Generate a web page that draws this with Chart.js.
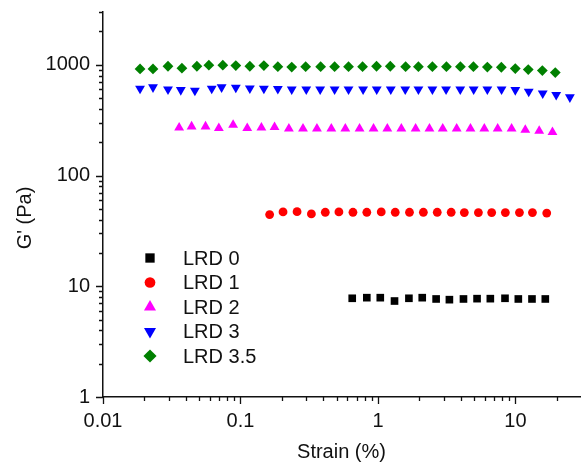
<!DOCTYPE html>
<html>
<head>
<meta charset="utf-8">
<script src="https://cdn.jsdelivr.net/npm/chart.js@4/dist/chart.umd.min.js"></script>
<style>
  html, body { margin: 0; padding: 0; background: #fff; }
  canvas { display: block; }
</style>
</head>
<body>
<canvas id="chart" width="581" height="462"></canvas>
<script>
// Strain (%) and G' (Pa), one pair of arrays per sample
const seriesNames = ["LRD 0", "LRD 1", "LRD 2", "LRD 3", "LRD 3.5"];

const strain0 = [0.65, 0.83, 1.04, 1.32, 1.68, 2.10, 2.65, 3.31, 4.19, 5.26, 6.57, 8.40, 10.5, 13.2, 16.5];
const gPrime0 = [7.79, 7.89, 7.89, 7.36, 7.79, 7.89, 7.68, 7.57, 7.68, 7.73, 7.73, 7.79, 7.68, 7.68, 7.68];

const strain1 = [0.163, 0.204, 0.258, 0.328, 0.414, 0.52, 0.658, 0.83, 1.057, 1.336, 1.696, 2.14, 2.70, 3.41, 4.25, 5.38, 6.72, 8.45, 10.7, 13.3, 16.9];
const gPrime1 = [44.4, 46.9, 47.2, 45.0, 46.6, 46.9, 46.6, 46.6, 46.9, 46.6, 46.6, 46.6, 46.6, 46.6, 46.3, 46.3, 46.3, 46.3, 46.3, 46.3, 45.8];

const strain2 = [0.0358, 0.0441, 0.0557, 0.0696, 0.0884, 0.112, 0.142, 0.177, 0.225, 0.285, 0.360, 0.458, 0.579, 0.735,
  0.929, 1.17, 1.48, 1.88, 2.37, 2.96, 3.74, 4.71, 5.94, 7.43, 9.38, 11.8, 14.9, 18.6];
const gPrime2 = [271, 277, 277, 268, 287, 268, 271, 273, 265, 265, 265, 265, 265, 265,
  265, 265, 265, 265, 265, 265, 265, 265, 265, 265, 265, 258, 253, 246];

const strain3 = [0.0186, 0.0231, 0.0297, 0.0368, 0.0466, 0.0618, 0.0729, 0.0925, 0.117, 0.148, 0.187, 0.236,
  0.301, 0.380, 0.484, 0.611, 0.780, 0.980, 1.24, 1.58, 1.97, 2.49, 3.13, 3.97, 4.97, 6.25, 7.93,
  9.98, 12.5, 15.8, 19.8, 24.9];
const gPrime3 = [610, 628, 602, 593, 585, 610, 628, 623, 614, 610, 606, 602,
  602, 602, 602, 602, 602, 602, 602, 602, 602, 602, 602, 602, 602, 602, 602,
  593, 573, 554, 535, 510];

const strain35 = [0.0186, 0.0231, 0.0297, 0.0375, 0.0482, 0.0589, 0.0744, 0.0925, 0.117, 0.148, 0.187, 0.236,
  0.298, 0.383, 0.484, 0.611, 0.773, 0.977, 1.23, 1.59, 1.97, 2.49, 3.15, 3.98, 4.95, 6.25, 7.90,
  9.98, 12.4, 15.7, 19.5];
const gPrime35 = [918, 918, 971, 932, 971, 992, 992, 985, 971, 985, 963, 955,
  963, 963, 963, 963, 963, 971, 971, 963, 963, 963, 963, 963, 963, 955, 951,
  925, 906, 887, 851];

// Tick positions on both log axes (labels only on the decades)
const xTickValues = [0.01, 0.02, 0.03, 0.04, 0.05, 0.06, 0.07, 0.08, 0.09,
  0.1, 0.2, 0.3, 0.4, 0.5, 0.6, 0.7, 0.8, 0.9,
  1, 2, 3, 4, 5, 6, 7, 8, 9,
  10, 20];
const yTickValues = [1, 2, 3, 4, 5, 6, 7, 8, 9,
  10, 20, 30, 40, 50, 60, 70, 80, 90,
  100, 200, 300, 400, 500, 600, 700, 800, 900,
  1000, 2000, 3000];

const FONT = "'Liberation Sans', Arial, sans-serif";
const INK = "#111";

const isDecade = (v) => Math.abs(Math.log10(v) - Math.round(Math.log10(v))) < 1e-9;
const toPoints = (xs, ys) => xs.map((x, i) => ({ x, y: ys[i] }));

const styles = [
  { color: "#000000", pointStyle: "rect", radius: 5.4, rotation: 0 },
  { color: "#ff0000", pointStyle: "circle", radius: 4.4, rotation: 0 },
  { color: "#ff00ff", pointStyle: "triangle", radius: 5.7, rotation: 0 },
  { color: "#0000ff", pointStyle: "triangle", radius: 5.7, rotation: 180 },
  { color: "#008000", pointStyle: "rectRot", radius: 5.4, rotation: 0 },
];

const seriesData = [
  toPoints(strain0, gPrime0),
  toPoints(strain1, gPrime1),
  toPoints(strain2, gPrime2),
  toPoints(strain3, gPrime3),
  toPoints(strain35, gPrime35),
];

const datasets = seriesNames.map((name, i) => ({
  label: name,
  data: seriesData[i],
  showLine: false,
  clip: false,
  backgroundColor: styles[i].color,
  borderColor: styles[i].color,
  borderWidth: 0,
  pointStyle: styles[i].pointStyle,
  pointRadius: styles[i].radius,
  pointRotation: styles[i].rotation,
  pointBorderWidth: 0,
}));

// fixed axis sizes, no extra label padding from chart.js
const fixSize = (prop, size) => (scale) => {
  scale[prop] = size;
  scale.paddingTop = 0;
  scale.paddingBottom = 0;
  scale.paddingLeft = 0;
  scale.paddingRight = 0;
};

// Draws tick marks (long on decades), axis titles and the in-plot legend
const decorPlugin = {
  id: "decor",
  afterDraw(chart) {
    const ctx = chart.ctx;
    const xs = chart.scales.x;
    const ys = chart.scales.y;
    ctx.save();
    ctx.strokeStyle = INK;
    ctx.lineWidth = 1.3;
    ctx.beginPath();
    xTickValues.forEach((v) => {
      const px = Math.round(xs.getPixelForValue(v)) + 0.5;
      const len = isDecade(v) ? 7 : 4;
      ctx.moveTo(px, ys.bottom);
      ctx.lineTo(px, ys.bottom + len);
    });
    yTickValues.forEach((v) => {
      const py = Math.round(ys.getPixelForValue(v)) + 0.5;
      const len = isDecade(v) ? 7 : 4;
      ctx.moveTo(xs.left, py);
      ctx.lineTo(xs.left - len, py);
    });
    ctx.stroke();

    // axis titles
    ctx.fillStyle = INK;
    ctx.font = "20px " + FONT;
    ctx.textAlign = "center";
    ctx.textBaseline = "alphabetic";
    ctx.fillText("Strain (%)", 341.5, 458);
    ctx.save();
    ctx.translate(31, 218);
    ctx.rotate(-Math.PI / 2);
    ctx.fillText("G' (Pa)", 0, 0);
    ctx.restore();

    // legend
    ctx.textAlign = "left";
    ctx.textBaseline = "middle";
    seriesNames.forEach((name, i) => {
      const rowY = 258 + i * 24.5;
      const st = styles[i];
      ctx.fillStyle = st.color;
      Chart.helpers.drawPoint(ctx, {
        pointStyle: st.pointStyle,
        radius: st.radius * 1.22,
        rotation: st.rotation,
        borderWidth: 0,
      }, 150, rowY);
      ctx.fillStyle = INK;
      ctx.fillText(name, 183, rowY + 1);
    });
    ctx.restore();
  },
};

new Chart(document.getElementById("chart"), {
  type: "scatter",
  data: { datasets },
  options: {
    responsive: false,
    animation: false,
    devicePixelRatio: 1,
    layout: { autoPadding: false, padding: { top: 12, left: 0, right: 0, bottom: 0 } },
    plugins: {
      legend: { display: false },
      tooltip: { enabled: false },
    },
    scales: {
      x: {
        type: "logarithmic",
        position: "bottom",
        min: 0.01,
        max: 30,
        afterBuildTicks: (scale) => {
          scale.ticks = xTickValues.map((value) => ({ value }));
        },
        afterFit: fixSize("height", 65),
        grid: { display: false, drawTicks: false },
        border: { display: true, color: INK, width: 1.5 },
        ticks: {
          autoSkip: false,
          maxRotation: 0,
          padding: 12,
          color: INK,
          font: { family: FONT, size: 20 },
          callback: (v) => (isDecade(v) ? String(v) : ""),
        },
      },
      y: {
        type: "logarithmic",
        position: "left",
        min: 1,
        max: 3000,
        afterBuildTicks: (scale) => {
          scale.ticks = yTickValues.map((value) => ({ value }));
        },
        afterFit: fixSize("width", 103),
        grid: { display: false, drawTicks: false },
        border: { display: true, color: INK, width: 1.5 },
        ticks: {
          autoSkip: false,
          padding: 13,
          color: INK,
          font: { family: FONT, size: 20 },
          callback: (v) => (isDecade(v) ? String(v) : ""),
        },
      },
    },
  },
  plugins: [decorPlugin],
});
</script>
</body>
</html>
